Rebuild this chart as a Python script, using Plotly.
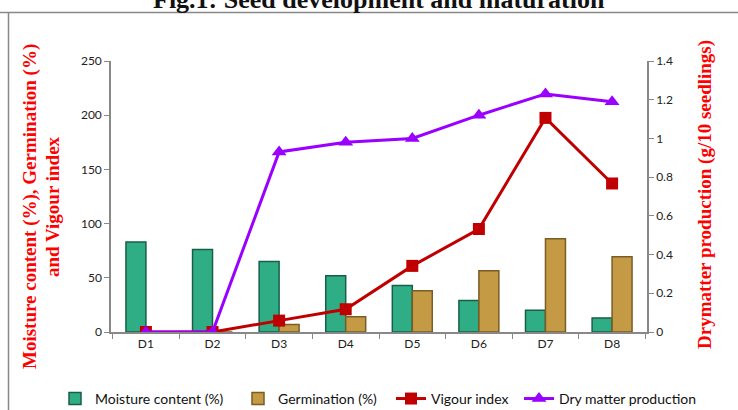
import plotly.graph_objects as go

categories = ["D1", "D2", "D3", "D4", "D5", "D6", "D7", "D8"]
moisture = [83, 76, 65, 52, 43, 29, 20, 13]
germination = [0, 0, 7, 14, 38, 56.5, 86, 69.5]
vigour = [0, 0, 10.5, 21, 61, 95, 197.5, 137]
dry_matter = [0, 0, 0.93, 0.98, 1.0, 1.12, 1.23, 1.19]

left_ticks = [0, 50, 100, 150, 200, 250]
right_ticks = [0, 0.2, 0.4, 0.6, 0.8, 1, 1.2, 1.4]

fig = go.Figure()
fig.add_trace(go.Bar(x=categories, y=moisture, name="Moisture content (%)", legend="legend",
                     marker=dict(color="#2fae86", line=dict(color="#1a5e48", width=1.5))))
fig.add_trace(go.Bar(x=categories, y=germination, name="Germination (%)", legend="legend2",
                     marker=dict(color="#c49a45", line=dict(color="#7a5c26", width=1.5))))
fig.add_trace(go.Scatter(x=categories, y=vigour, name="Vigour index", mode="lines+markers",
                         legend="legend3",
                         line=dict(color="#c00000", width=3),
                         marker=dict(symbol="square", size=12, color="#c00000")))
fig.add_trace(go.Scatter(x=categories, y=dry_matter, name="Dry matter production", mode="lines+markers",
                         legend="legend4",
                         yaxis="y2", line=dict(color="#9900ff", width=3),
                         marker=dict(symbol="triangle-up", size=13, color="#9900ff")))

tickfont = dict(family="Lato, Open Sans, sans-serif", size=12, color="#222")
serif = "Liberation Serif, Times New Roman, serif"
legfont = dict(family="Lato, Open Sans, sans-serif", size=14, color="#111")

# plot area in pixels: x 111..647, y 61..332
PL, PW, PT, PH = 111, 536, 61, 271


def px_x(x):
    return (x - PL) / PW


def px_y(y):
    return (PT + PH - y) / PH


def leg(xpx):
    return dict(orientation="h", x=xpx / 738, xanchor="left", xref="container",
                y=0.027, yanchor="middle", yref="container", font=legfont,
                itemwidth=30, bgcolor="rgba(0,0,0,0)")


fig.update_layout(
    width=738, height=410,
    margin=dict(l=111, r=91, t=61, b=78),
    paper_bgcolor="white", plot_bgcolor="white",
    barmode="group", bargap=0.4, bargroupgap=0,
    showlegend=True,
    legend=leg(55), legend2=leg(238), legend3=leg(391), legend4=leg(519),
    xaxis=dict(showline=True, linecolor="#888", linewidth=1.5, ticks="outside",
               tickson="boundaries", ticklen=5, tickcolor="#888", tickfont=tickfont,
               showgrid=False, automargin=False),
    yaxis=dict(range=[0, 250], tickvals=left_ticks, showline=True, linecolor="#888",
               linewidth=1.5, ticks="outside", ticklen=5, tickcolor="#888",
               tickfont=tickfont, showgrid=False, zeroline=False, automargin=False),
    yaxis2=dict(range=[0, 1.4], tickvals=right_ticks, overlaying="y", side="right",
                showline=True, linecolor="#888", linewidth=1.5, ticks="outside", ticklen=5,
                tickcolor="#888", tickfont=tickfont, showgrid=False, zeroline=False,
                automargin=False),
)

red_title = dict(family=serif, size=19, color="#ff0000")
fig.add_annotation(text="<b>Moisture content (%), Germination (%)</b>", xref="paper", yref="paper",
                   x=px_x(30), y=px_y(207), xanchor="center", yanchor="middle", textangle=-90,
                   showarrow=False, font=red_title)
fig.add_annotation(text="<b>and Vigour index</b>", xref="paper", yref="paper",
                   x=px_x(52), y=px_y(207), xanchor="center", yanchor="middle", textangle=-90,
                   showarrow=False, font=red_title)
fig.add_annotation(text="<b>Drymatter production (g/10 seedlings)</b>", xref="paper", yref="paper",
                   x=px_x(705), y=px_y(195), xanchor="center", yanchor="middle", textangle=-90,
                   showarrow=False, font=dict(family=serif, size=19, color="#ff0000"))

fig.add_annotation(text="<b>Fig.1: Seed development and maturation</b>", xref="paper", yref="paper",
                   x=0.5, y=px_y(0), xanchor="center", yanchor="middle", showarrow=False,
                   font=dict(family=serif, size=26, color="#111"))
fig.add_shape(type="line", xref="paper", yref="paper", x0=-0.3, x1=1.3, y0=px_y(12.5), y1=px_y(12.5),
              line=dict(color="#888", width=1.5))
fig.add_shape(type="line", xref="paper", yref="paper", x0=px_x(8.5), x1=px_x(8.5), y0=px_y(12.5), y1=-0.3,
              line=dict(color="#888", width=1.5))

fig.write_html("out.html", config={"displayModeBar": False},
               post_script="document.body.style.margin='0';")
